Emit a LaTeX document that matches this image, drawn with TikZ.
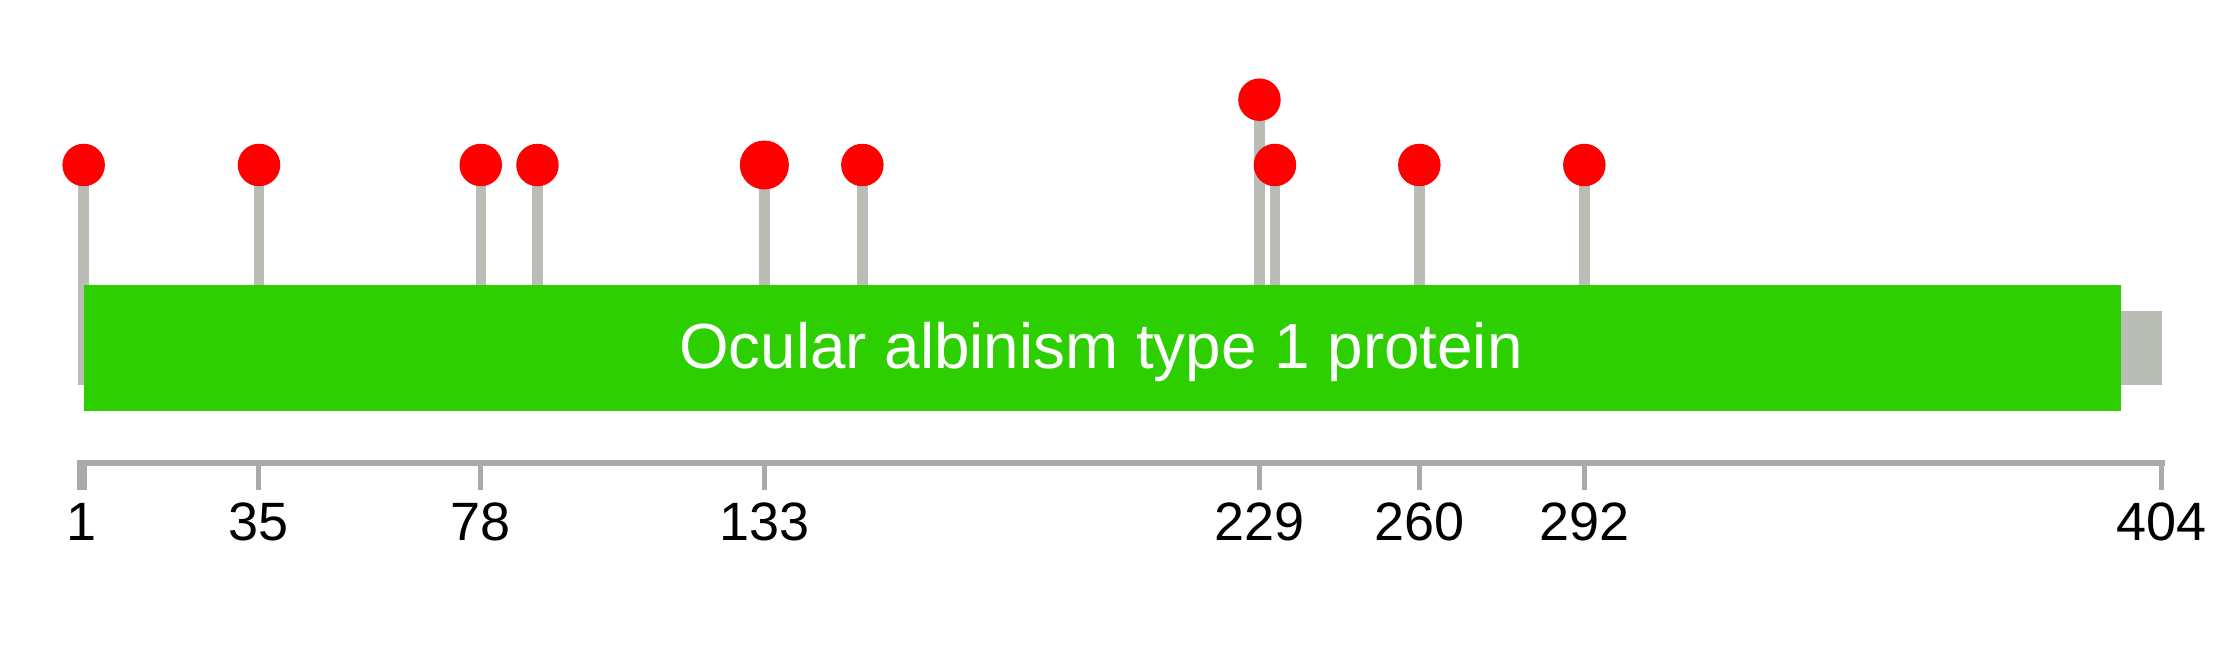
\documentclass[tikz,border=0pt]{standalone}
\usepackage{fontspec}
\setmainfont{Liberation Sans}
\usepackage{tikz}
\usetikzlibrary{positioning}
\definecolor{StemGray}{HTML}{BABDB6}
\definecolor{DomainGreen}{HTML}{2DCF00}
\definecolor{AxisGray}{HTML}{AAAAAA}
\definecolor{MutRed}{HTML}{FF0000}

\begin{document}
\begin{tikzpicture}[x=0.4pt, y=-0.4pt,
    stemline/.style={line width=4.2pt, StemGray},
    headdot/.style={circle, fill=MutRed, inner sep=0pt, minimum size=17pt},
    tickline/.style={line width=2pt, AxisGray},
    ticklabel/.style={anchor=base, font=\fontsize{21.6}{26}\selectfont}]
    \useasboundingbox (0,0) rectangle (2239,645);

    % Stems (position/height of head)
    \foreach \p/\yy in {1/165, 35/165, 78/165, 89/165, 133/165, 152/165,
                        229/99.7, 232/165, 260/165, 292/165} {
        \pgfmathsetmacro\xx{78.5+5.157*\p}
        \coordinate (h\p) at (\xx,\yy);
        \coordinate (b\p) at (\xx,385);
        \draw[stemline] (h\p) -- (b\p);
    }

    % Backbone and domain
    \fill[StemGray] (83.6,311) rectangle (2162,385);
    \node[fill=DomainGreen, inner sep=0pt, minimum width=814.8pt, minimum height=50.4pt]
        (dom) at (1102.2,348) {};
    \node[anchor=base, text=white, font=\fontsize{25.5}{30}\selectfont]
        (domlabel) at (1101,368) {Ocular albinism type 1 protein};

    % Heads
    \foreach \p in {1, 35, 78, 89, 152, 229, 232, 260, 292}
        \node[headdot] (m\p) at (h\p) {};
    \node[headdot, minimum size=19.6pt] (m133) at (h133) {};

    % Axis
    \draw[line width=2.4pt, AxisGray] (76.5,463) -- (2165,463);
    \coordinate (t1) at (81.5,460);
    \draw[line width=4pt, AxisGray] (t1) -- ++(0,30);
    \node[ticklabel] (l1) at (81.5,540) {1};
    \foreach \p in {35, 78, 133, 229, 260, 292, 404} {
        \pgfmathsetmacro\xx{78.5+5.157*\p}
        \coordinate (t\p) at (\xx,463);
        \draw[tickline] (t\p) -- ++(0,27);
        \node[ticklabel] (l\p) at (\xx,540) {\p};
    }
\end{tikzpicture}
\end{document}
